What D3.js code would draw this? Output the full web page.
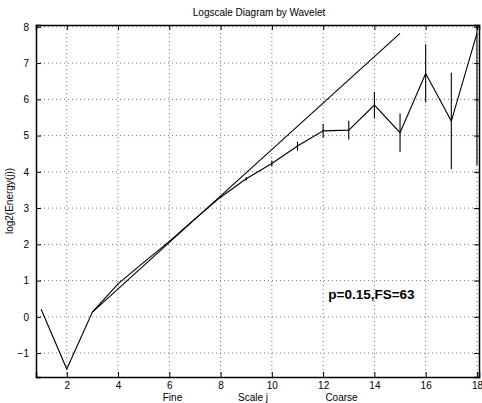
<!DOCTYPE html>
<html>
<head>
<meta charset="utf-8">
<script src="https://cdn.jsdelivr.net/npm/d3@7"></script>
<style>
body { margin: 0; background: #fff; }
svg { font-family: "Liberation Sans", Arial, sans-serif; }
</style>
</head>
<body>
<div id="chart"></div>
<script>
// scales j and log2 energy with the error half widths
let scales = [1, 2, 3, 4, 5, 6, 7, 8, 9, 10, 11, 12, 13, 14, 15, 16, 17, 18];
let energy = [0.21, -1.44, 0.13, 0.91, 1.5, 2.08, 2.7, 3.3, 3.81, 4.23, 4.71, 5.13, 5.15, 5.84, 5.08, 6.71, 5.4, 7.82];
let errHalf = [0, 0, 0, 0.01, 0.01, 0.02, 0.02, 0.03, 0.05, 0.08, 0.12, 0.19, 0.26, 0.37, 0.53, 0.8, 1.33, 3.64];

// regression line end points
let fitX = [3, 15];
let fitY = [0.13, 7.82];

let xTicks = [2, 4, 6, 8, 10, 12, 14, 16, 18];
let yTicks = [-1, 0, 1, 2, 3, 4, 5, 6, 7, 8];

let svgWidth = 482;
let svgHeight = 403;

let margin = {
	top: 25,
	right: 3,
	bottom: 26,
	left: 36
};

let width = svgWidth - margin.left - margin.right;
let height = svgHeight - margin.top - margin.bottom;

let svg = d3.select("#chart")
	.append("svg")
	.attr("width", svgWidth)
	.attr("height", svgHeight);

let chartGroup = svg.append("g")
	.attr("transform", `translate(${margin.left}, ${margin.top})`);

let x = d3.scaleLinear()
	.domain([0.8, 18.08])
	.range([0, width]);

let y = d3.scaleLinear()
	.domain([-1.66, 8.05])
	.range([height, 0]);

chartGroup.append("clipPath")
	.attr("id", "clip")
	.append("rect")
	.attr("width", width)
	.attr("height", height);

// dotted grid
chartGroup.append("g")
	.selectAll("line")
	.data(xTicks)
	.enter()
	.append("line")
	.attr("x1", d => x(d)).attr("x2", d => x(d))
	.attr("y1", 0).attr("y2", height)
	.attr("stroke", "#555")
	.attr("stroke-width", 0.8)
	.attr("stroke-dasharray", "1,3");

chartGroup.append("g")
	.selectAll("line")
	.data(yTicks)
	.enter()
	.append("line")
	.attr("x1", 0).attr("x2", width)
	.attr("y1", d => y(d)).attr("y2", d => y(d))
	.attr("stroke", "#555")
	.attr("stroke-width", 0.8)
	.attr("stroke-dasharray", "1,3");

// axes with inward ticks on all four sides
let bottomAxis = d3.axisBottom(x).tickValues(xTicks).tickSize(-5).tickPadding(5);
let topAxis = d3.axisTop(x).tickValues(xTicks).tickSize(-5).tickFormat("");
let leftAxis = d3.axisLeft(y).tickValues(yTicks).tickSize(-5).tickPadding(7).tickFormat(d => d < 0 ? "\u2212" + Math.abs(d) : d);
let rightAxis = d3.axisRight(y).tickValues(yTicks).tickSize(-5).tickFormat("");

chartGroup.append("g")
	.attr("transform", `translate(0, ${height})`)
	.call(bottomAxis);
chartGroup.append("g")
	.call(topAxis);
chartGroup.append("g")
	.call(leftAxis);
chartGroup.append("g")
	.attr("transform", `translate(${width}, 0)`)
	.call(rightAxis);

chartGroup.selectAll(".domain")
	.attr("stroke", "#000")
	.attr("stroke-width", 1.5);
chartGroup.selectAll(".tick line")
	.attr("stroke", "#000");
chartGroup.selectAll(".tick text")
	.attr("font-size", "10px")
	.attr("font-family", "Liberation Sans, Arial, sans-serif")
	.attr("fill", "#000");

let plot = chartGroup.append("g")
	.attr("clip-path", "url(#clip)");

let line = d3.line()
	.x(d => x(d[0]))
	.y(d => y(d[1]));

// fit line
plot.append("path")
	.datum(d3.zip(fitX, fitY))
	.attr("d", line)
	.attr("fill", "none")
	.attr("stroke", "#000")
	.attr("stroke-width", 1.1);

// data line
plot.append("path")
	.datum(d3.zip(scales, energy))
	.attr("d", line)
	.attr("fill", "none")
	.attr("stroke", "#000")
	.attr("stroke-width", 1.1);

// error bars
plot.selectAll(".err")
	.data(d3.zip(scales, energy, errHalf))
	.enter()
	.append("line")
	.attr("class", "err")
	.attr("x1", d => x(d[0])).attr("x2", d => x(d[0]))
	.attr("y1", d => y(d[1] - d[2]))
	.attr("y2", d => y(d[1] + d[2]))
	.attr("stroke", "#000")
	.attr("stroke-width", 1.1);

// title and labels
svg.append("text")
	.attr("x", 259)
	.attr("y", 16)
	.attr("text-anchor", "middle")
	.attr("font-size", "10px")
	.text("Logscale Diagram by Wavelet");

svg.append("text")
	.attr("transform", `translate(13, ${margin.top + height / 2}) rotate(-90)`)
	.attr("text-anchor", "middle")
	.attr("font-size", "10px")
	.text("log2(Energy(j))");

svg.append("text")
	.attr("x", 172.5)
	.attr("y", 401)
	.attr("text-anchor", "middle")
	.attr("font-size", "10px")
	.text("Fine");

svg.append("text")
	.attr("x", 253)
	.attr("y", 401)
	.attr("text-anchor", "middle")
	.attr("font-size", "10px")
	.text("Scale j");

svg.append("text")
	.attr("x", 341.5)
	.attr("y", 401)
	.attr("text-anchor", "middle")
	.attr("font-size", "10px")
	.text("Coarse");

chartGroup.append("text")
	.attr("x", x(12.2))
	.attr("y", y(0.48))
	.attr("font-size", "13.5px")
	.attr("font-weight", "bold")
	.text("p=0.15,FS=63");
</script>
</body>
</html>
